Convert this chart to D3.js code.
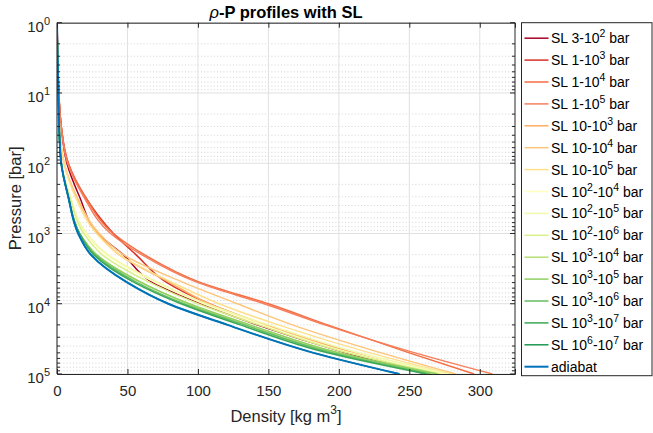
<!DOCTYPE html>
<html>
<head>
<meta charset="utf-8">
<script src="https://cdn.jsdelivr.net/npm/d3@7"></script>
<style>
  html, body { margin: 0; padding: 0; background: #fff; }
  svg { display: block; font-family: "Liberation Sans", Arial, Helvetica, sans-serif; }
</style>
</head>
<body>
<div id="chart"></div>
<script>
const pressure = [1, 3, 10, 30, 100, 300, 1000, 2000, 5000, 1e4, 2e4, 5e4, 1e5];

const seriesNames = [
  'SL 3-10^2 bar', 'SL 1-10^3 bar', 'SL 1-10^4 bar', 'SL 1-10^5 bar',
  'SL 10-10^3 bar', 'SL 10-10^4 bar', 'SL 10-10^5 bar',
  'SL 10^2-10^4 bar', 'SL 10^2-10^5 bar', 'SL 10^2-10^6 bar',
  'SL 10^3-10^4 bar', 'SL 10^3-10^5 bar', 'SL 10^3-10^6 bar', 'SL 10^3-10^7 bar',
  'SL 10^6-10^7 bar', 'adiabat'
];

// density [kg m^3] for each profile, same order as seriesNames
const sl_3_1e2   = [0, 0.4, 1.2, 3.0, 7.0, 16, 29, 47, 68, 102, 142, 205, 262];
const sl_1_1e3   = [0, 0.6, 1.3, 3.0, 8.0, 20, 40, 56, 78, 108, 148, 210, 266];
const sl_1_1e4   = [0, 0.6, 1.3, 3.0, 8.0, 20, 40, 62, 102, 150, 192, 250, 296];
const sl_1_1e5   = [0, 0.6, 1.3, 3.0, 7.5, 19, 38, 60, 100, 147, 190, 254, 309];
const sl_10_1e3  = [0, 0.4, 1.0, 1.8, 5.0, 14, 29, 44, 80, 108, 148, 210, 270];
const sl_10_1e4  = [0, 0.4, 1.0, 1.8, 5.0, 14, 30, 47, 90, 128, 167, 230, 283];
const sl_10_1e5  = [0, 0.4, 1.0, 1.8, 5.0, 13, 28, 44, 82, 115, 157, 222, 280];
const sl_1e2_1e4 = [0, 0.4, 1.0, 1.5, 3.0, 9.5, 20, 35, 70, 104, 146, 208, 274];
const sl_1e2_1e5 = [0, 0.4, 1.0, 1.5, 3.0, 9.5, 21, 36, 72, 106, 150, 214, 278];
const sl_1e2_1e6 = [0, 0.4, 1.0, 1.5, 3.0, 9.0, 19, 32, 66, 100, 143, 206, 272];
const sl_1e3_1e4 = [0, 0.4, 1.0, 1.5, 3.0, 8.0, 16, 28, 60, 93, 134, 197, 267];
const sl_1e3_1e5 = [0, 0.4, 1.0, 1.5, 3.0, 8.0, 16, 28, 60, 94, 137, 200, 270];
const sl_1e3_1e6 = [0, 0.4, 1.0, 1.5, 3.0, 8.0, 16, 27, 57, 90, 133, 195, 265];
const sl_1e3_1e7 = [0, 0.4, 1.0, 1.5, 3.0, 8.0, 16, 26, 55, 88, 130, 192, 262];
const sl_1e6_1e7 = [0, 0.4, 1.0, 1.5, 3.0, 8.0, 15, 24, 50, 79, 121, 182, 243];
const adiabat    = [0, 0.4, 1.0, 1.5, 3.0, 8.0, 15, 24, 50, 79, 121, 182, 243];

const densities = [sl_3_1e2, sl_1_1e3, sl_1_1e4, sl_1_1e5, sl_10_1e3, sl_10_1e4, sl_10_1e5,
  sl_1e2_1e4, sl_1e2_1e5, sl_1e2_1e6, sl_1e3_1e4, sl_1e3_1e5, sl_1e3_1e6, sl_1e3_1e7,
  sl_1e6_1e7, adiabat];

const xTicks = [0, 50, 100, 150, 200, 250, 300];
const yTickExps = [0, 1, 2, 3, 4, 5];

const colors = ['#a50026', '#d73027', '#f46d43', '#f67f5b', '#fdae61', '#fdc57a', '#fee08b',
  '#ffffbf', '#f1f8a9', '#d9ef8b', '#b7e075', '#91cf60', '#66bd63', '#3aa856', '#1a9850', '#0072bd'];

const W = 653, H = 433;
const margin = { top: 22.7, right: 138, bottom: 59, left: 57 };
const w = W - margin.left - margin.right;
const h = H - margin.top - margin.bottom;
const axisColor = '#262626';

const svg = d3.select('#chart').append('svg')
  .attr('width', W).attr('height', H)
  .attr('viewBox', `0 0 ${W} ${H}`);

const g = svg.append('g').attr('transform', `translate(${margin.left},${margin.top})`);

const x = d3.scaleLinear().domain([0, 325]).range([0, w]);
const y = d3.scaleLog().domain([1, 1e5]).range([0, h]);

// minor log positions 2..9 in every decade
const minorY = [];
for (const e of yTickExps.slice(0, -1)) {
  for (let k = 2; k <= 9; k++) minorY.push(k * Math.pow(10, e));
}

// grid
g.append('g').selectAll('line').data(minorY).enter().append('line')
  .attr('x1', 0).attr('x2', w)
  .attr('y1', d => y(d)).attr('y2', d => y(d))
  .attr('stroke', '#c8c8c8').attr('stroke-width', 0.8)
  .attr('stroke-dasharray', '1,2.2');
g.append('g').selectAll('line').data(yTickExps).enter().append('line')
  .attr('x1', 0).attr('x2', w)
  .attr('y1', d => y(Math.pow(10, d))).attr('y2', d => y(Math.pow(10, d)))
  .attr('stroke', '#e0e0e0').attr('stroke-width', 1);
g.append('g').selectAll('line').data(xTicks).enter().append('line')
  .attr('x1', d => x(d)).attr('x2', d => x(d))
  .attr('y1', 0).attr('y2', h)
  .attr('stroke', '#e0e0e0').attr('stroke-width', 1);

// profiles
g.append('clipPath').attr('id', 'clip')
  .append('rect').attr('width', w).attr('height', h);

const line = d3.line()
  .x(d => x(d[0]))
  .y(d => y(d[1]))
  .curve(d3.curveMonotoneY);

g.append('g').attr('clip-path', 'url(#clip)')
  .selectAll('path')
  .data(densities)
  .enter()
  .append('path')
  .attr('fill', 'none')
  .attr('stroke', (d, i) => colors[i])
  .attr('stroke-width', (d, i) => i === densities.length - 1 ? 2 : 1.5)
  .attr('d', d => line(d.map((v, j) => [v, pressure[j]])));

// axes box with inward ticks (MATLAB look)
const xAxisB = d3.axisBottom(x).tickValues(xTicks).tickSize(-5).tickPadding(11);
const xAxisT = d3.axisTop(x).tickValues(xTicks).tickSize(-5).tickFormat('');
g.append('g').attr('transform', `translate(0,${h})`).call(xAxisB)
  .call(s => s.selectAll('text').attr('font-size', 15).attr('fill', axisColor))
  .call(s => s.attr('font-family', null))
  .call(s => s.selectAll('line, path').attr('stroke', axisColor));
g.append('g').call(xAxisT)
  .call(s => s.selectAll('line, path').attr('stroke', axisColor));

const yMajor = yTickExps.map(e => Math.pow(10, e));
for (const side of ['left', 'right']) {
  const xs = side === 'left' ? 0 : w;
  const dir = side === 'left' ? 1 : -1;
  const ax = g.append('g');
  ax.selectAll('.maj').data(yMajor).enter().append('line')
    .attr('x1', xs).attr('x2', xs + dir * 5)
    .attr('y1', d => y(d)).attr('y2', d => y(d))
    .attr('stroke', axisColor);
  ax.selectAll('.min').data(minorY).enter().append('line')
    .attr('x1', xs).attr('x2', xs + dir * 3)
    .attr('y1', d => y(d)).attr('y2', d => y(d))
    .attr('stroke', axisColor);
  ax.append('line').attr('x1', xs).attr('x2', xs).attr('y1', 0).attr('y2', h)
    .attr('stroke', axisColor);
}

// y tick labels 10^k
const yLab = g.append('g').selectAll('text').data(yTickExps).enter().append('text')
  .attr('x', -7).attr('y', d => y(Math.pow(10, d)) + 9.5)
  .attr('text-anchor', 'end').attr('fill', axisColor).attr('font-size', 15);
yLab.append('tspan').text('10');
yLab.append('tspan').attr('dy', -7.5).attr('font-size', 11).text(d => d);

// labels and title
const xl = svg.append('text')
  .attr('x', margin.left + w / 2).attr('y', 421.5)
  .attr('text-anchor', 'middle').attr('fill', axisColor).attr('font-size', 16.5);
xl.append('tspan').text('Density [kg m');
xl.append('tspan').attr('dy', -7.5).attr('font-size', 12).text('3');
xl.append('tspan').attr('dy', 7.5).text(']');

svg.append('text')
  .attr('transform', `translate(21,${margin.top + h / 2}) rotate(-90)`)
  .attr('text-anchor', 'middle').attr('fill', axisColor).attr('font-size', 16.5)
  .text('Pressure [bar]');

const title = svg.append('text')
  .attr('x', margin.left + w / 2).attr('y', 18)
  .attr('text-anchor', 'middle').attr('fill', '#000').attr('font-size', 16.5)
  .attr('font-weight', 'bold');
title.append('tspan').attr('font-style', 'italic').attr('font-weight', 'normal').text('ρ');
title.append('tspan').text('-P profiles with SL');

// legend
const lg = svg.append('g').attr('transform', 'translate(521.5,22.7)');
lg.append('rect').attr('width', 130.5).attr('height', 353)
  .attr('fill', '#fff').attr('stroke', axisColor).attr('stroke-width', 1);

const entries = lg.selectAll('.entry').data(seriesNames).enter().append('g')
  .attr('transform', (d, i) => `translate(0,${15.5 + i * 21.9})`);
entries.append('line').attr('x1', 3).attr('x2', 27).attr('y1', 0).attr('y2', 0)
  .attr('stroke', (d, i) => colors[i]).attr('stroke-width', (d, i) => i === 15 ? 2 : 1.5);
const et = entries.append('text').attr('x', 29.5).attr('y', 5)
  .attr('fill', '#000').attr('font-size', 14);
et.each(function (d) {
  const t = d3.select(this);
  // split "10^k" pieces into superscript tspans
  const parts = d.split(/\^(\d)/);
  parts.forEach((p, k) => {
    if (k % 2 === 1) {
      t.append('tspan').attr('dy', -6).attr('font-size', 10.5).text(p);
    } else if (p) {
      t.append('tspan').attr('dy', k > 0 ? 6 : 0).text(p);
    }
  });
});
</script>
</body>
</html>
